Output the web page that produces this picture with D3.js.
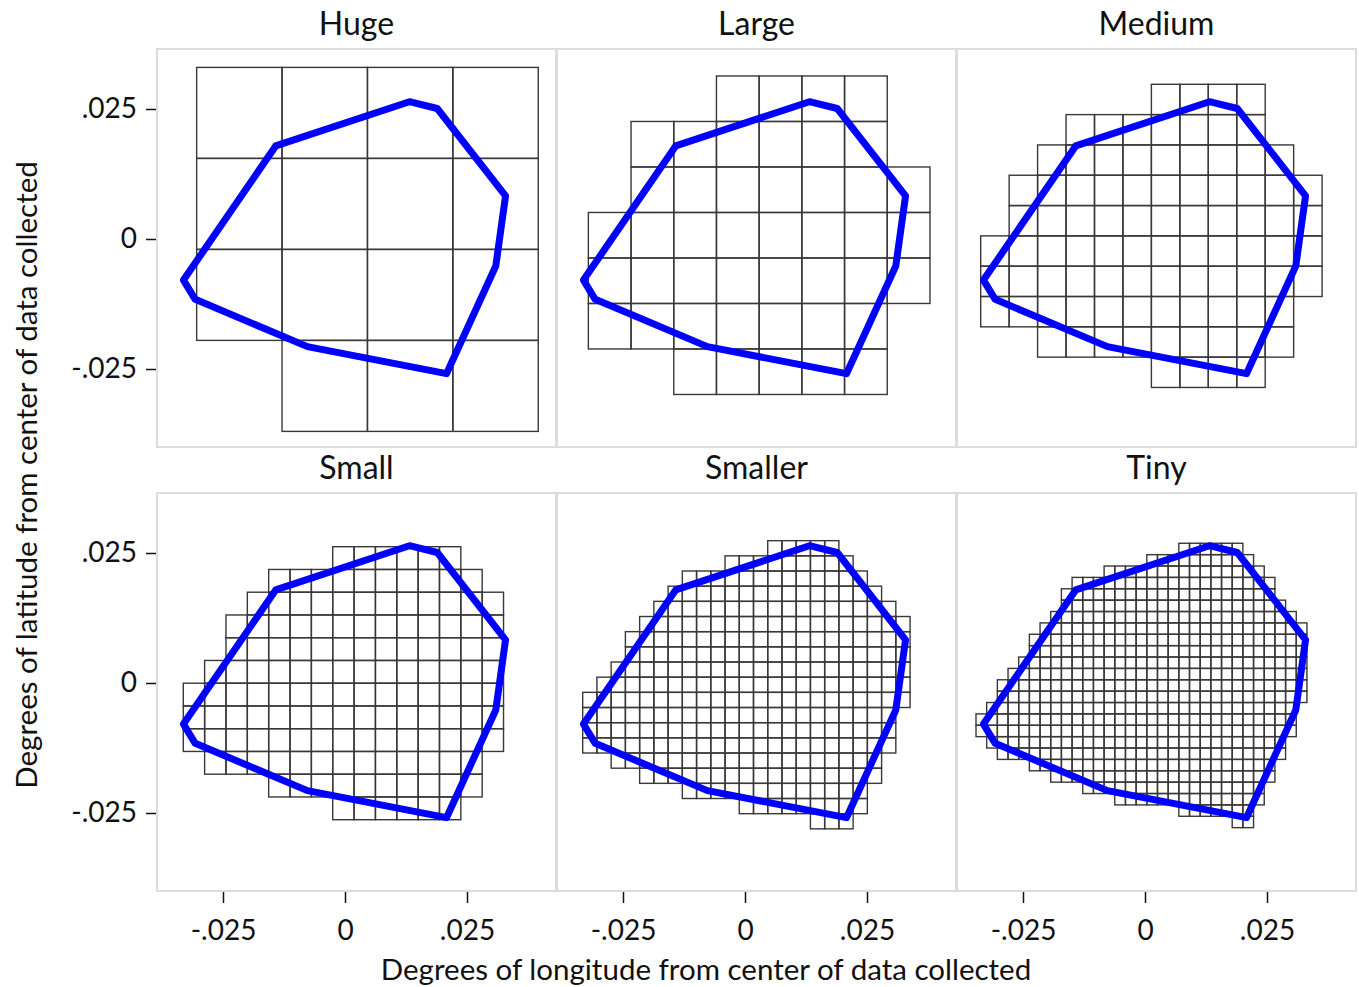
<!DOCTYPE html>
<html>
<head>
<meta charset="utf-8">
<script src="https://cdn.jsdelivr.net/npm/d3@7/dist/d3.min.js"></script>
<style>
  body { margin: 0; background: #fff; }
  text { font-family: Lato, "Open Sans", sans-serif; fill: #111; }
</style>
</head>
<body>
<svg id="chart" width="1359" height="987"></svg>
<script>
// panels, in reading order
const panelNames = ["Huge", "Large", "Medium", "Small", "Smaller", "Tiny"];

// grid cell size (degrees) and top-left corner of each panel's grid
const cellSizes = [0.0175, 0.00875, 0.00583, 0.004375, 0.0029167, 0.0021875];
const gridLon0 = [-0.0304, -0.0321, -0.03367, -0.03314, -0.03326, -0.03463];
const gridLat0 = [0.0330, 0.03135, 0.02975, 0.02621, 0.02737, 0.02687];

// occupied cells: for each grid row (top to bottom) first and last column
const hugeRows = [[0,3],[0,3],[0,3],[1,3]];
const largeRows = [[3,6],[1,6],[1,7],[0,7],[0,7],[0,6],[2,6]];
const mediumRows = [[6,9],[3,9],[2,10],[1,11],[1,11],[0,11],[0,11],[0,10],[2,10],[6,9]];
const smallRows = [[7,12],[4,13],[3,14],[2,14],[2,14],[1,14],[0,14],[0,14],[0,14],[1,13],[4,13],[7,12]];
const smallerRows = [[13,17],[10,18],[7,19],[6,20],[5,21],[4,22],[3,22],[3,22],[2,22],[1,22],
  [0,22],[0,21],[0,21],[0,21],[2,20],[4,20],[7,19],[11,19],[16,18]];
const tinyRows = [[19,24],[16,25],[12,26],[9,27],[8,27],[8,28],[7,29],[6,30],[5,30],[5,30],
  [4,30],[3,30],[2,30],[2,30],[1,29],[0,29],[0,29],[1,28],[2,28],[5,27],[7,27],[10,26],[13,26],[19,25],[24,25]];
const panelRows = [hugeRows, largeRows, mediumRows, smallRows, smallerRows, tinyRows];

// boundary polygon of the data collected
const boundaryLon = [-0.0331, -0.0307, -0.0077, 0.0208, 0.0309, 0.0329, 0.0189, 0.0132, -0.0142];
const boundaryLat = [-0.0079, -0.0116, -0.0207, -0.0259, -0.0052, 0.0083, 0.0251, 0.0264, 0.0179];

const tickValues = [-0.025, 0, 0.025];
const tickLabels = ["-.025", "0", ".025"];

const svg = d3.select("#chart");

const marginLeft = 157, marginTop = 49;
const pw = 399, ph = 398;
const colStep = 400, rowStep = 444;

const x = d3.scaleLinear().domain([-0.038525, 0.043238]).range([0, pw]);
const y = d3.scaleLinear().domain([-0.04, 0.036538]).range([ph, 0]);

const boundary = boundaryLon.map((d, i) => [d, boundaryLat[i]]);
const line = d3.line().x(d => x(d[0])).y(d => y(d[1])).curve(d3.curveLinearClosed);

panelNames.forEach((name, p) => {
  const col = p % 3, row = Math.floor(p / 3);
  const g = svg.append("g")
    .attr("transform", `translate(${marginLeft + col * colStep},${marginTop + row * rowStep})`);

  g.append("rect")
    .attr("width", pw).attr("height", ph)
    .attr("fill", "#fff")
    .attr("stroke", "#dcdcdc").attr("stroke-width", 2);

  svg.append("text")
    .attr("x", marginLeft + col * colStep + pw / 2)
    .attr("y", marginTop + row * rowStep - 14)
    .attr("text-anchor", "middle")
    .style("font-size", "32px")
    .text(name);

  const cs = cellSizes[p];
  const cells = [];
  panelRows[p].forEach((r, ri) => {
    for (let c = r[0]; c <= r[1]; c++) cells.push({ c: c, r: ri });
  });

  g.selectAll("rect.cell").data(cells).enter().append("rect")
    .attr("class", "cell")
    .attr("x", d => x(gridLon0[p] + d.c * cs))
    .attr("y", d => y(gridLat0[p] - d.r * cs))
    .attr("width", d => x(gridLon0[p] + (d.c + 1) * cs) - x(gridLon0[p] + d.c * cs))
    .attr("height", d => y(gridLat0[p] - (d.r + 1) * cs) - y(gridLat0[p] - d.r * cs))
    .attr("fill", "none")
    .attr("stroke", "#383838")
    .attr("stroke-width", 1.4);

  g.append("path")
    .datum(boundary)
    .attr("d", line)
    .attr("fill", "none")
    .attr("stroke", "#0000ff")
    .attr("stroke-width", 7)
    .attr("stroke-linejoin", "round");

  if (col === 0) {
    const ay = g.append("g")
      .attr("transform", "translate(-1,0)")
      .call(d3.axisLeft(y).tickValues(tickValues).tickFormat((d, i) => tickLabels[i])
        .tickSize(10).tickPadding(9));
    ay.select(".domain").remove();
    ay.selectAll("line").attr("stroke", "#111").attr("stroke-width", 1.5);
    ay.selectAll("text").style("font-size", "28px").attr("fill", "#111");
  }
  if (row === 1) {
    const ax = g.append("g")
      .attr("transform", `translate(0,${ph + 1})`)
      .call(d3.axisBottom(x).tickValues(tickValues).tickFormat((d, i) => tickLabels[i])
        .tickSize(11).tickPadding(17));
    ax.select(".domain").remove();
    ax.selectAll("line").attr("stroke", "#111").attr("stroke-width", 1.5);
    ax.selectAll("text").style("font-size", "28px").attr("fill", "#111");
  }
});

svg.append("text")
  .attr("x", 706).attr("y", 980)
  .attr("text-anchor", "middle")
  .style("font-size", "29.5px")
  .text("Degrees of longitude from center of data collected");

svg.append("text")
  .attr("transform", "translate(37,475) rotate(-90)")
  .attr("text-anchor", "middle")
  .style("font-size", "29.5px")
  .text("Degrees of latitude from center of data collected");
</script>
</body>
</html>
